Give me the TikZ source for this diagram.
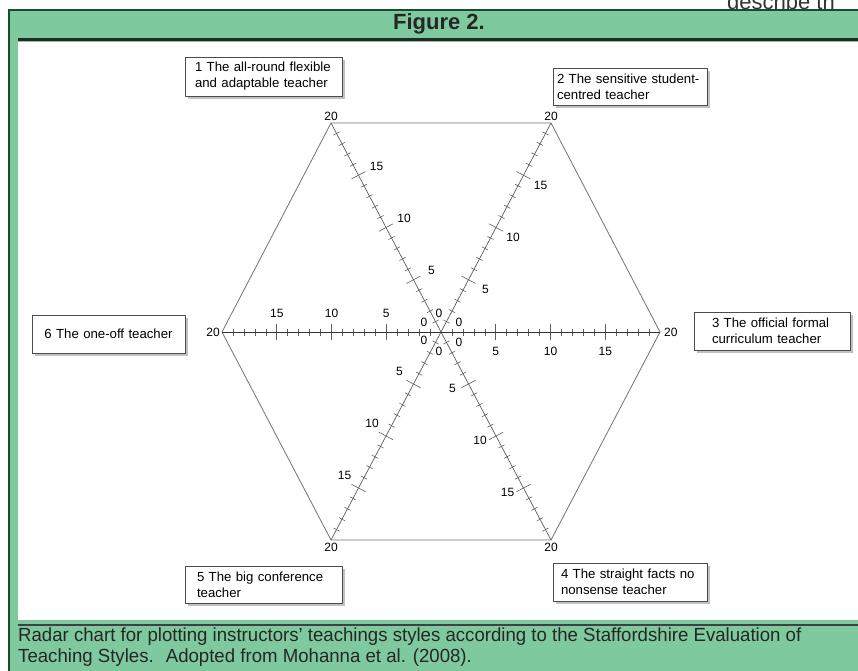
\documentclass[tikz,border=0pt]{standalone}
\usepackage{fontspec}
\setmainfont{Liberation Sans}
\newfontfamily\narrowfont[FakeStretch=0.98]{Liberation Sans}
\usetikzlibrary{calc,shadows}
\definecolor{framegreen}{RGB}{126,202,158}
\definecolor{darkgreen}{RGB}{22,78,44}
\definecolor{axisgray}{RGB}{95,95,95}

\begin{document}
\begin{tikzpicture}[
    x=1pt, y=-1pt,
    box/.style={
        draw=black!70,
        fill=white,
        line width=0.8pt,
        align=left,
        font=\fontsize{13.2}{16}\selectfont,
        inner ysep=2pt,
        drop shadow={shadow xshift=2.5pt, shadow yshift=-2.5pt, fill=black!40, opacity=0.6}
    },
    num/.style={font=\fontsize{12}{12}\selectfont, inner sep=0pt},
    axis/.style={draw=axisgray, line width=0.7pt},
    tickmark/.style={draw=axisgray, line width=0.6pt},
    hexline/.style={draw=black!55, line width=0.8pt}
]
\useasboundingbox (0,0) rectangle (858,670);
\fill[white] (0,0) rectangle (858,670);
\node[anchor=base west, font=\fontsize{22}{22}\selectfont, text=black!80, inner sep=0pt] (pagetext) at (727,9) {describe th};
\fill[framegreen] (9,10) rectangle (862,672);
\draw[darkgreen, line width=2.5pt] (9,672) -- (9,10) -- (862,10);
\draw[black!85, line width=3pt] (18,39) -- (862,39);
\fill[white] (18,42) rectangle (862,620);
\draw[black!75, line width=1.5pt] (18,625) -- (862,625);

\node[font=\bfseries\fontsize{22}{22}\selectfont, text=black!85] (title) at (439,24) {Figure 2.};
\node[anchor=north west, align=left, inner sep=0pt, font=\narrowfont\fontsize{19}{21}\selectfont, text=black!85] (caption) at (18,628)
    {Radar chart for plotting instructors’ teachings styles according to the Staffordshire Evaluation of\\Teaching Styles.~ Adopted from Mohanna et al. (2008).};

\coordinate (c) at (441,332);
\coordinate (v1) at (331,123);
\coordinate (v2) at (551,123);
\coordinate (v3) at (660,332);
\coordinate (v4) at (551,540);
\coordinate (v5) at (331,540);
\coordinate (v6) at (222,332);

\draw[hexline] (v1) -- (v2) -- (v3) -- (v4) -- (v5) -- (v6) -- cycle;
\foreach \k in {1,...,6} {
    \draw[axis] (c) -- (v\k);
    \foreach \i in {1,...,19} {
        \pgfmathsetmacro\len{ifthenelse(mod(\i,5)==0,8,3.5)}
        \draw[tickmark] ($(c)!\i/20!(v\k)!\len pt!90:(v\k)$) -- ($(c)!\i/20!(v\k)!\len pt!-90:(v\k)$);
    }
}
\draw[axis, draw=black!80, line width=0.9pt] (v6) -- (v3);

\foreach \k/\dx/\dy in {1/18/-9, 2/17/10, 3/0/19, 4/-16/4, 5/-14/-13, 6/0/-19}
    \foreach \v in {5,10,15}
        \node[num] (l\k-\v) at ($(c)!\v/20!(v\k)+(\dx,\dy)$) {\v};

\node[num] (z1) at (439,313) {0};
\node[num] (z2) at (459,322) {0};
\node[num] (z3) at (459,342) {0};
\node[num] (z4) at (439,351) {0};
\node[num] (z5) at (424,340) {0};
\node[num] (z6) at (424,322) {0};

\node[num, above=2pt] (t1) at (v1) {20};
\node[num, above=2pt] (t2) at (v2) {20};
\node[num, right=4pt] (t3) at (v3) {20};
\node[num, below=3pt] (t4) at (v4) {20};
\node[num, below=3pt] (t5) at (v5) {20};
\node[num, left=2pt] (t6) at (v6) {20};

\node[box, minimum width=157pt, minimum height=39pt, inner xsep=10pt, text width=137pt] (s1) at (263.5,76.5) {1 The all-round flexible\\and adaptable teacher};
\node[box, minimum width=154pt, minimum height=37pt, inner xsep=4pt, text width=146pt] (s2) at (630,86.5) {2 The sensitive student-\\centred teacher};
\node[box, minimum width=156pt, minimum height=38pt, inner xsep=18pt, text width=120pt] (s3) at (772,331) {3 The official formal\\curriculum teacher};
\node[box, minimum width=154pt, minimum height=38pt, inner xsep=8pt, text width=138pt] (s4) at (630,582) {4 The straight facts no\\nonsense teacher};
\node[box, minimum width=157pt, minimum height=37pt, inner xsep=12pt, text width=133pt] (s5) at (263.5,584.5) {5 The big conference\\teacher};
\node[box, minimum width=153pt, minimum height=38pt, inner xsep=6pt, align=center, text width=141pt] (s6) at (108.5,334) {6 The one-off teacher};
\end{tikzpicture}
\end{document}
